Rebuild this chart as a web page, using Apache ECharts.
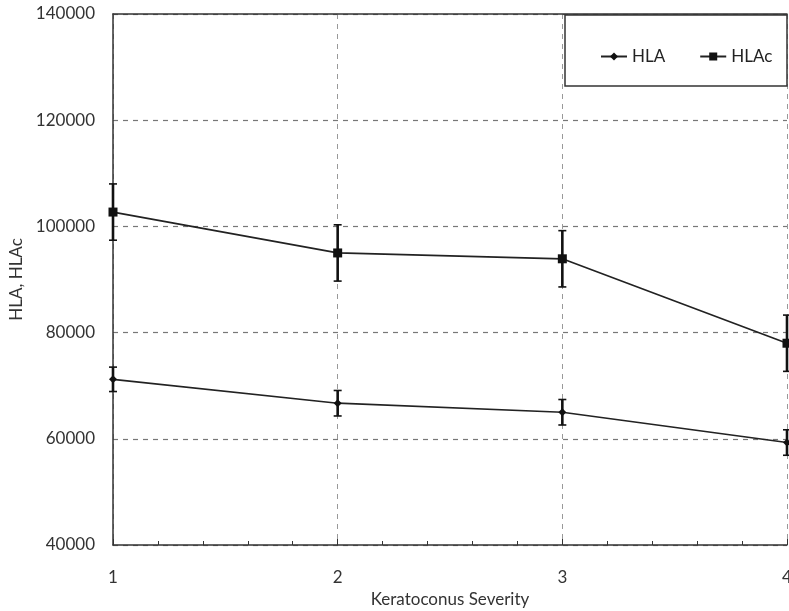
<!DOCTYPE html>
<html><head><meta charset="utf-8">
<script src="https://cdn.jsdelivr.net/npm/echarts@6/dist/echarts.min.js"></script>
<style>html,body{margin:0;padding:0;background:#fff}#c{width:789px;height:611px}</style>
</head><body><div id="c"></div>
<script>
var severity = [1, 2, 3, 4];
var hla = [71200, 66700, 65000, 59300];
var hlaErr = [2300, 2400, 2400, 2400];
var hlac = [102700, 95000, 93900, 78000];
var hlacErr = [5300, 5300, 5300, 5300];
var yTicks = [40000, 60000, 80000, 100000, 120000, 140000];

var chart = echarts.init(document.getElementById('c'));
var FONT = 'Lato';
function errData(vals, errs) {
  return severity.map(function (x, i) { return [x, vals[i] - errs[i], vals[i] + errs[i]]; });
}
function errRender(params, api) {
  var x = api.value(0);
  var lo = api.coord([x, api.value(1)]);
  var hi = api.coord([x, api.value(2)]);
  var cw = 4;
  var st = { stroke: '#111', lineWidth: 2.6 };
  var st2 = { stroke: '#111', lineWidth: 1.6 };
  return { type: 'group', children: [
    { type: 'line', shape: { x1: lo[0], y1: lo[1], x2: hi[0], y2: hi[1] }, style: st },
    { type: 'line', shape: { x1: lo[0] - cw, y1: lo[1], x2: lo[0] + cw, y2: lo[1] }, style: st2 },
    { type: 'line', shape: { x1: hi[0] - cw, y1: hi[1], x2: hi[0] + cw, y2: hi[1] }, style: st2 }
  ]};
}
var option = {
  animation: false,
  grid: { left: 113, right: 2, top: 14, bottom: 66, containLabel: false, outerBoundsMode: 'none' },
  graphic: [{ type: 'rect', shape: { x: 565, y: 15, width: 222, height: 71 }, style: { fill: '#fff', stroke: '#333', lineWidth: 1.5 }, z: 5 }],
  legend: {
    left: 595, top: 43, itemGap: 34, itemWidth: 26, itemHeight: 10, z: 10,
    textStyle: { fontFamily: FONT, fontSize: 17, color: '#222' },
    data: [{ name: 'HLA' }, { name: 'HLAc' }]
  },
  xAxis: [{
    type: 'value', min: 1, max: 4, interval: 1,
    name: 'Keratoconus Severity', nameLocation: 'middle', nameGap: 44,
    nameTextStyle: { fontFamily: FONT, fontSize: 17, color: '#333' },
    axisLine: { lineStyle: { color: '#333', width: 1.5 } },
    axisTick: { inside: true, length: 6, lineStyle: { color: '#333' } },
    minorTick: { show: true, splitNumber: 5, length: 4, lineStyle: { color: '#333' } },
    axisLabel: { fontFamily: FONT, fontSize: 17, color: '#333', margin: 24 },
    splitLine: { show: true, lineStyle: { type: [5, 5], color: '#999', width: 1 } }
  }, {
    type: 'value', position: 'top', min: 1, max: 4,
    axisLine: { show: true, lineStyle: { color: '#333', width: 1.5 } },
    axisTick: { show: false }, axisLabel: { show: false }, splitLine: { show: false }
  }],
  yAxis: {
    type: 'value', min: 40000, max: 140000, interval: 20000,
    name: 'HLA, HLAc', nameLocation: 'middle', nameGap: 84,
    nameTextStyle: { fontFamily: FONT, fontSize: 17, color: '#333' },
    axisLine: { show: true, lineStyle: { color: '#333', width: 1.5 } },
    axisTick: { show: false },
    axisLabel: { fontFamily: FONT, fontSize: 17, color: '#333', margin: 18,
      formatter: function (v) { return yTicks.indexOf(v) >= 0 ? String(v) : ''; } },
    splitLine: { show: true, lineStyle: { type: [5, 5], color: '#777', width: 1.2 } }
  },
  series: [
    { name: 'HLA', type: 'line', data: severity.map(function (x, i) { return [x, hla[i]]; }),
      symbol: 'diamond', symbolSize: 8, lineStyle: { color: '#222', width: 1.7 }, itemStyle: { color: '#111' }, z: 4 },
    { name: 'HLAc', type: 'line', data: severity.map(function (x, i) { return [x, hlac[i]]; }),
      symbol: 'rect', symbolSize: 9, lineStyle: { color: '#222', width: 1.7 }, itemStyle: { color: '#111' }, z: 4 },
    { type: 'custom', data: errData(hla, hlaErr), renderItem: errRender, encode: { x: 0, y: [1, 2] }, z: 3, clip: false },
    { type: 'custom', data: errData(hlac, hlacErr), renderItem: errRender, encode: { x: 0, y: [1, 2] }, z: 3, clip: false }
  ]
};
chart.setOption(option);
</script></body></html>
